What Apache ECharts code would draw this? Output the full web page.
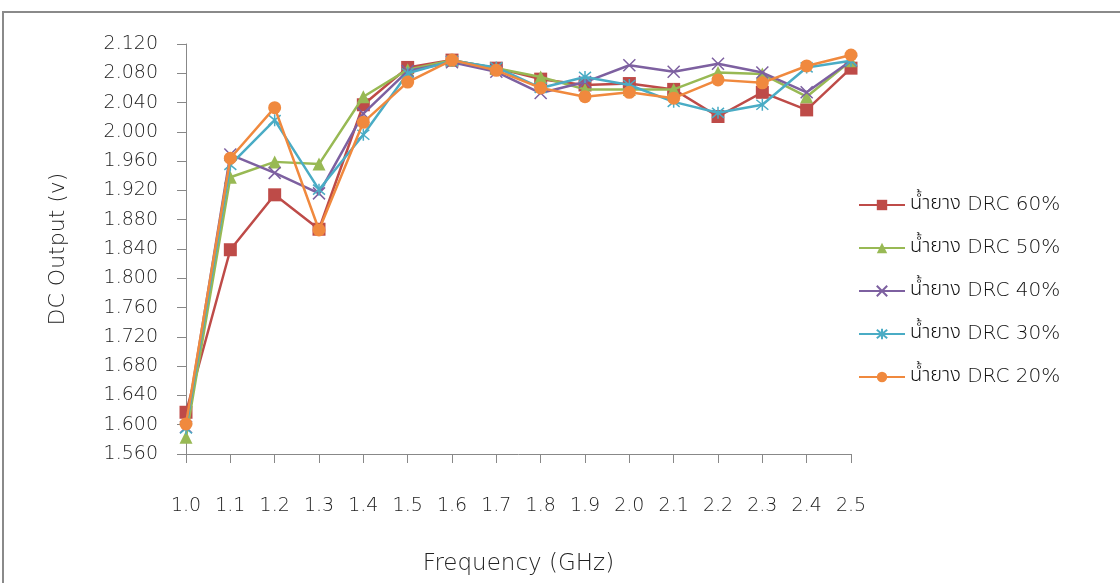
<!DOCTYPE html>
<html><head><meta charset="utf-8">
<script src="https://cdn.jsdelivr.net/npm/echarts@6/dist/echarts.min.js"></script>
<style>html,body{margin:0;padding:0;background:#fff}#c{width:1120px;height:583px}</style>
</head><body><div id="c"></div>
<script>
const categories = ['1.0','1.1','1.2','1.3','1.4','1.5','1.6','1.7','1.8','1.9','2.0','2.1','2.2','2.3','2.4','2.5'];
const drc60 = [1.617,1.839,1.914,1.867,2.037,2.088,2.098,2.087,2.072,2.064,2.066,2.058,2.021,2.054,2.030,2.087];
const drc50 = [1.583,1.938,1.959,1.956,2.048,2.085,2.098,2.087,2.075,2.058,2.058,2.058,2.081,2.079,2.048,2.097];
const drc40 = [1.597,1.969,1.944,1.916,2.025,2.083,2.095,2.082,2.053,2.068,2.091,2.082,2.093,2.081,2.054,2.097];
const drc30 = [1.595,1.955,2.016,1.921,1.996,2.080,2.097,2.088,2.060,2.075,2.064,2.041,2.026,2.037,2.088,2.097];
const drc20 = [1.601,1.964,2.033,1.866,2.013,2.068,2.098,2.084,2.060,2.048,2.054,2.046,2.071,2.067,2.090,2.105];
const seriesNames = ['น้ำยาง DRC 60%','น้ำยาง DRC 50%','น้ำยาง DRC 40%','น้ำยาง DRC 30%','น้ำยาง DRC 20%'];
const yTickMin = 1.56, yTickMax = 2.12, yTickStep = 0.04;

const FONT = "'DejaVu Sans', 'Noto Sans', sans-serif";
const THAI_FONT = "'Noto Sans Thai', Loma, Garuda, 'Tlwg Typo', Kinnari, 'DejaVu Sans', sans-serif";
const FW = 200;
const colors = ['#BE4B48','#98B954','#7D60A0','#4AACC5','#F0893E'];
const symbols = ['rect','triangle','path://M0,0L10,10M10,0L0,10','path://M0,0L10,10M10,0L0,10M5,-1L5,11','circle'];
const symSizes = [13,13,12,12,13];
const dataSets = [drc60,drc50,drc40,drc30,drc20];

const chart = echarts.init(document.getElementById('c'));
chart.setOption({
  animation:false,
  backgroundColor:'#fff',
  textStyle:{fontFamily:FONT,fontWeight:FW},
  grid:{left:186,top:44,right:269,bottom:129},
  graphic:[{type:'rect',shape:{x:3,y:12,width:1200,height:700},style:{fill:'none',stroke:'#8a8a8a',lineWidth:2},silent:true}],
  legend:{
    orient:'vertical', left:853, top:190, itemWidth:46, itemHeight:13, itemGap:23,
    formatter:function(name){
      const sp = name.indexOf(' ');
      return '{t|' + name.slice(0, sp) + '}{l| ' + name.slice(sp + 1) + '}';
    },
    textStyle:{fontSize:19,color:'#111',fontFamily:FONT,fontWeight:FW,
      rich:{
        t:{fontSize:20,color:'#111',fontFamily:THAI_FONT,fontWeight:300},
        l:{fontSize:20,color:'#111',fontFamily:FONT,fontWeight:FW}
      }
    },
    data:seriesNames
  },
  xAxis:{
    type:'category', data:categories, boundaryGap:false,
    axisLine:{lineStyle:{color:'#888',width:1}},
    axisTick:{show:true,length:9,inside:false,alignWithLabel:true,lineStyle:{color:'#888'}},
    axisLabel:{color:'#222',fontSize:19,margin:43,fontFamily:FONT,fontWeight:FW,interval:0},
    name:'Frequency (GHz)', nameLocation:'middle', nameGap:99,
    nameTextStyle:{fontSize:23,color:'#222',fontFamily:FONT,fontWeight:FW}
  },
  yAxis:{
    type:'value', min:yTickMin, max:yTickMax, interval:yTickStep,
    splitLine:{show:false},
    axisLine:{show:true,lineStyle:{color:'#888',width:1}},
    axisTick:{show:true,length:9,lineStyle:{color:'#888'}},
    axisLabel:{color:'#222',fontSize:19,margin:28,fontFamily:FONT,fontWeight:FW,formatter:v=>v.toFixed(3)},
    name:'DC Output (v)', nameLocation:'middle', nameGap:117, nameRotate:90,
    nameTextStyle:{fontSize:22,color:'#222',fontFamily:FONT,fontWeight:FW}
  },
  series:seriesNames.map((n,i)=>({
    name:n, type:'line', data:dataSets[i],
    symbol:symbols[i], symbolSize:symSizes[i],
    lineStyle:{color:colors[i],width:2.5},
    itemStyle:{color:colors[i],borderColor:colors[i],borderWidth:(i===2||i===3)?1.5:0},
    z:2+i
  }))
});
</script></body></html>
